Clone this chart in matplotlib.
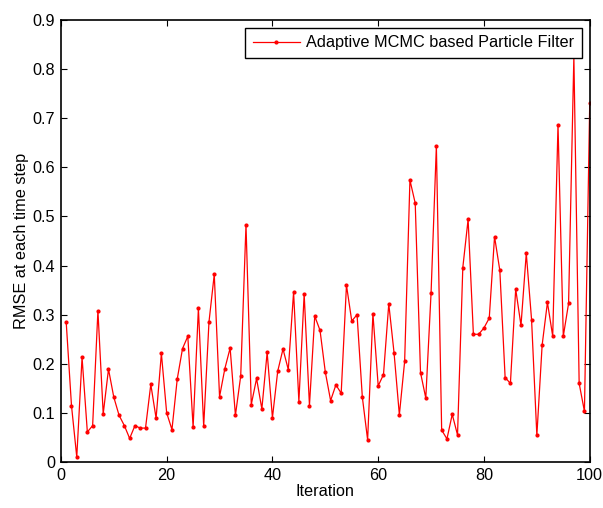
import numpy as np
import matplotlib
matplotlib.use("Agg")
import matplotlib.pyplot as plt

plt.rcParams['font.family'] = ['Liberation Sans', 'DejaVu Sans']

# -- data -----------------------------------------------------------
iterations = np.arange(1, 101)
rmse = [
    0.285, 0.115, 0.010, 0.213, 0.061, 0.074, 0.308, 0.098, 0.189, 0.132,
    0.095, 0.074, 0.048, 0.074, 0.069, 0.069, 0.158, 0.089, 0.221, 0.100,
    0.066, 0.169, 0.231, 0.256, 0.071, 0.313, 0.073, 0.285, 0.382, 0.133,
    0.190, 0.232, 0.095, 0.175, 0.483, 0.117, 0.170, 0.108, 0.223, 0.090,
    0.185, 0.230, 0.188, 0.346, 0.123, 0.342, 0.115, 0.297, 0.268, 0.183,
    0.125, 0.157, 0.140, 0.360, 0.287, 0.300, 0.132, 0.045, 0.302, 0.155,
    0.178, 0.322, 0.222, 0.096, 0.205, 0.574, 0.527, 0.182, 0.130, 0.345,
    0.644, 0.065, 0.047, 0.097, 0.055, 0.396, 0.494, 0.260, 0.260, 0.273,
    0.293, 0.459, 0.390, 0.172, 0.160, 0.352, 0.278, 0.425, 0.290, 0.054,
    0.238, 0.325, 0.256, 0.687, 0.256, 0.323, 0.826, 0.160, 0.103, 0.732,
]
series_label = 'Adaptive MCMC based Particle Filter'

# -- plot -----------------------------------------------------------
fs = 11.7
fig = plt.figure(figsize=(6.03, 5.08), dpi=100)
ax = fig.add_axes((0.101, 0.0906, 0.877, 0.870))

ax.plot(iterations, rmse, color='#ff0000', lw=0.9, marker='.', ms=4,
        label=series_label)

ax.set_xlim(0, 100)
ax.set_ylim(0, 0.9)
ax.set_xticks(np.arange(0, 101, 20))
ax.set_yticks(np.arange(0, 0.91, 0.1))
ax.set_yticklabels(['0'] + [f'{v:.1f}' for v in np.arange(0.1, 0.91, 0.1)])
ax.tick_params(direction='in', top=True, right=True, labelsize=fs,
               length=4, width=0.8, pad=4)
for s in ax.spines.values():
    s.set_linewidth(1.2)

ax.set_xlabel('Iteration', fontsize=fs, labelpad=1)
ax.set_ylabel('RMSE at each time step', fontsize=fs, labelpad=3)

leg = ax.legend(loc='upper right', fontsize=fs, fancybox=False,
                edgecolor='black', framealpha=1, borderaxespad=0.5,
                handlelength=2.9, handletextpad=0.4, borderpad=0.45)
leg.get_frame().set_linewidth(1.0)

fig.savefig('out.png', dpi=100)
